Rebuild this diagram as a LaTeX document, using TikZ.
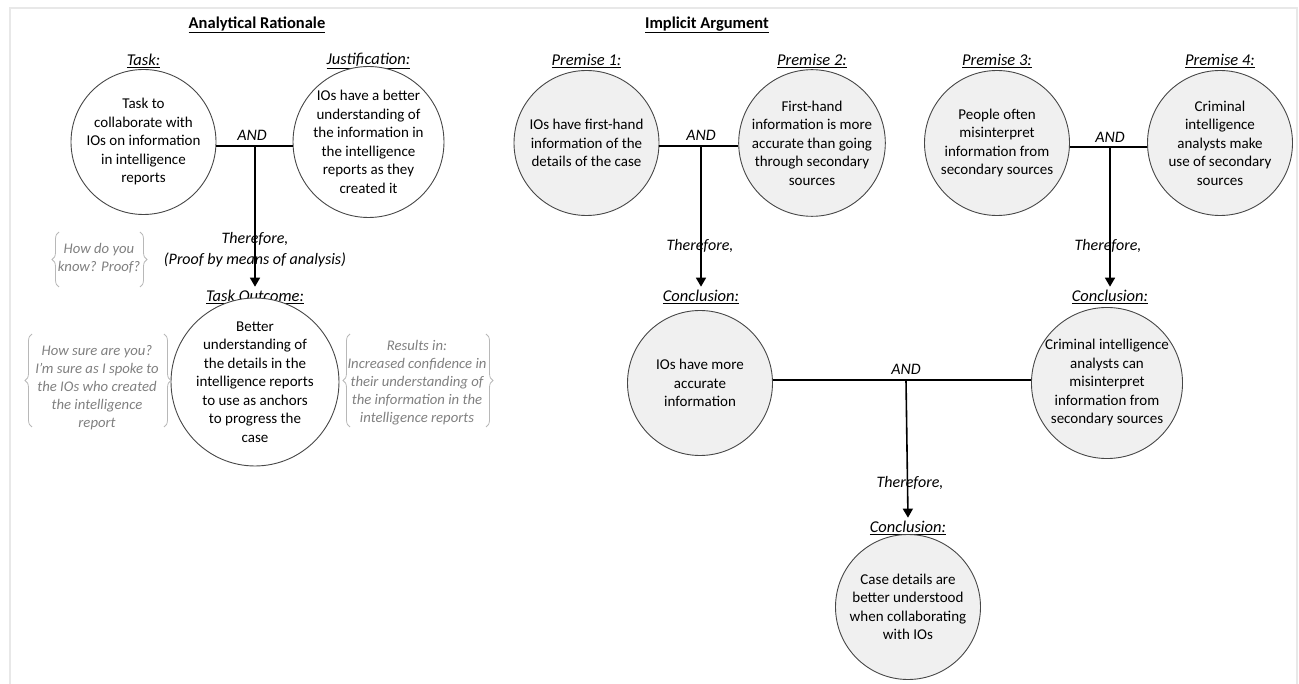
\documentclass[tikz,border=0pt]{standalone}
\usepackage{fontspec}
\setmainfont{Carlito}
\usetikzlibrary{arrows.meta,decorations.pathreplacing}

\begin{document}
\begin{tikzpicture}[x=1pt,y=-1pt,
  txt/.style={font=\fontsize{15}{18.5}\selectfont, align=center},
  plain/.style={circle, draw=black!72, line width=0.9pt, minimum size=145pt,
                inner sep=0pt, txt, fill=white},
  shaded/.style={plain, fill=black!6},
  lbl/.style={font=\fontsize{16.5}{20}\selectfont\itshape, align=center},
  conn/.style={font=\fontsize{16}{21}\selectfont\itshape, align=center},
  head/.style={font=\fontsize{16.5}{20}\selectfont\bfseries},
  link/.style={line width=1.6pt},
  flow/.style={link, -{Triangle[width=10pt,length=9pt]}},
  note/.style={font=\fontsize{14.7}{18}\selectfont\itshape, text=black!50, align=center},
  nbrace/.style={draw=black!28, line width=0.8pt, decorate,
                 decoration={brace, amplitude=7pt}},
]
\useasboundingbox (0,0) rectangle (1299,684);
% page frame
\draw[black!9, line width=1.6pt] (10,700) -- (10,8) -- (1297,8) -- (1297,700);

% ---------------- Analytical rationale ----------------
\node[head] (titleA) at (257,25) {\underline{Analytical Rationale}};
\node[lbl] (taskLab) at (143.5,61) {\underline{Task:}};
\node[lbl] (justLab) at (368.5,61) {\underline{Justification:}};
\node[plain] (task) at (143.5,142) {Task to\\collaborate with\\IOs on information\\in intelligence\\reports};
\node[plain] (just) at (368.5,142) {IOs have a better\\understanding of\\the information in\\the intelligence\\reports as they\\created it};
\coordinate (andA) at (255,146);
\node[conn] (andLabA) at (252,135) {AND};
\node[conn] (thereA) at (255,249.5) {Therefore,\\(Proof by means of analysis)};
\node[lbl] (outLab) at (255,297) {\underline{Task Outcome:}};
\node[plain] (outc) at (255,382) {Better\\understanding of\\the details in the\\intelligence reports\\to use as anchors\\to progress the\\case};

\draw[link] (task.east |- andA) -- (just.west |- andA);
\draw[flow] (andA) -- (outLab.north);

% side notes in braces
\node[note] (qProof) at (99,258) {How do you\\know? Proof?};
\draw[nbrace] (59,287) -- (59,232);
\draw[nbrace] (140,232) -- (140,287);

\node[note] (qSure) at (97,387.5) {How sure are you?\\I’m sure as I spoke to\\the IOs who created\\the intelligence\\report};
\draw[nbrace] (32,427) -- (32,334);
\draw[nbrace] (164,334) -- (164,427);

\node[note] (qRes) at (417,383) {Results in:\\Increased confidence in\\their understanding of\\the information in the\\intelligence reports};
\draw[nbrace] (350,427) -- (350,334);
\draw[nbrace] (486,334) -- (486,427);

% ---------------- Implicit argument ----------------
\node[head] (titleB) at (707,25) {\underline{Implicit Argument}};
\node[lbl] (p1Lab) at (586.5,61) {\underline{Premise 1:}};
\node[lbl] (p2Lab) at (812,61) {\underline{Premise 2:}};
\node[lbl] (p3Lab) at (997,61) {\underline{Premise 3:}};
\node[lbl] (p4Lab) at (1220,61) {\underline{Premise 4:}};
\node[shaded] (p1) at (586.5,143) {IOs have first-hand\\information of the\\details of the case};
\node[shaded] (p2) at (812,143) {First-hand\\information is more\\accurate than going\\through secondary\\sources};
\node[shaded] (p3) at (997,143) {People often\\misinterpret\\information from\\secondary sources};
\node[shaded] (p4) at (1220,143) {Criminal\\intelligence\\analysts make\\use of secondary\\sources};

\coordinate (andB) at (701,146);
\coordinate (andC) at (1110,147);
\node[conn] (andLabB) at (701,135) {AND};
\node[conn] (andLabC) at (1110,137) {AND};
\node[conn] (thereB) at (700,246) {Therefore,};
\node[conn] (thereC) at (1108,246) {Therefore,};
\node[lbl] (c1Lab) at (701,297) {\underline{Conclusion:}};
\node[lbl] (c2Lab) at (1110,297) {\underline{Conclusion:}};
\node[shaded] (c1) at (700,383) {IOs have more\\accurate\\information};
\node[shaded] (c2) at (1107,383) {Criminal intelligence\\analysts can\\misinterpret\\information from\\secondary sources};

\draw[link] (p1.east |- andB) -- (p2.west |- andB);
\draw[flow] (andB) -- (c1Lab.north);
\draw[link] (p3.east |- andC) -- (p4.west |- andC);
\draw[flow] (andC) -- (c2Lab.north);

\coordinate (andD) at (906,380);
\node[conn] (andLabD) at (906,369) {AND};
\node[conn] (thereD) at (910,483) {Therefore,};
\node[lbl] (c3Lab) at (908,528) {\underline{Conclusion:}};
\node[shaded] (c3) at (908,607) {Case details are\\better understood\\when collaborating\\with IOs};

\draw[link] (c1.east |- andD) -- (c2.west |- andD);
\draw[flow] (andD) -- (c3Lab.north);
\end{tikzpicture}
\end{document}
